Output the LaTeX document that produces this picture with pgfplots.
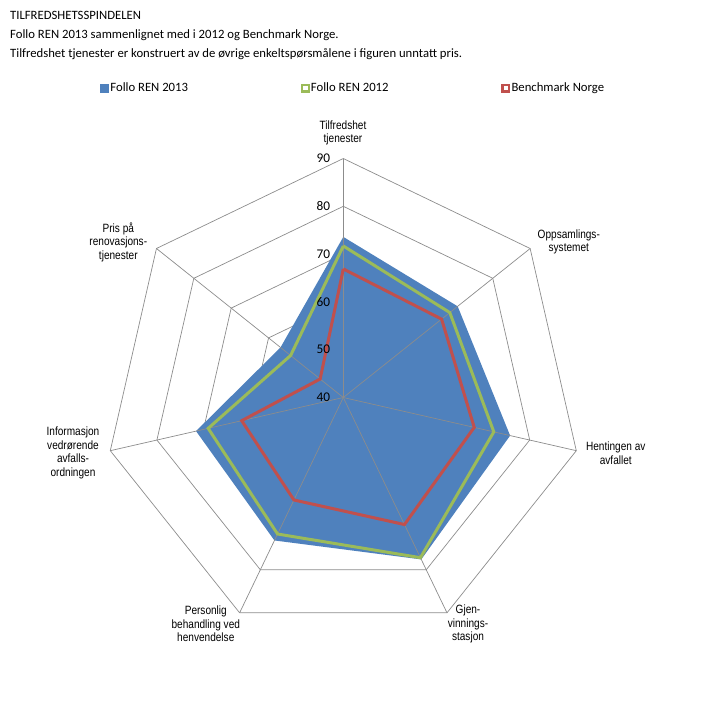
\documentclass[border=0pt]{standalone}
\usepackage{fontspec}
\setmainfont{Carlito}
\newfontfamily\narrowfont[FakeStretch=0.84]{Liberation Sans}
\usepackage{pgfplots}
\usepackage{pgfplotstable}
\pgfplotsset{compat=1.18}
\definecolor{c13}{HTML}{4F81BD}
\definecolor{c12}{HTML}{9BBB59}
\definecolor{cbm}{HTML}{C0504D}
\definecolor{gridc}{HTML}{8C8C8C}

% ang = direction of the spoke (degrees clockwise from top)
% a = Follo REN 2013, b = Follo REN 2012, c = Benchmark Norge
\pgfplotstableread{
ang a b c
0 73.6 71.7 66.9
51.4286 70.6 68.5 66.3
102.8571 75.8 72.3 68.1
154.2857 77.6 77.2 69.5
205.7143 73.2 71.7 63.8
257.1429 71.6 69.0 61.8
308.5714 56.8 54.1 46.2
360 73.6 71.7 66.9
}\radar

\begin{document}
\begin{tikzpicture}
\path[use as bounding box] (0,0) rectangle (709pt,-713pt);
\begin{axis}[
  at={(343.3pt,-397.5pt)}, anchor=center,
  x=4.78pt, y=4.78pt,
  xmin=-50, xmax=50, ymin=-50, ymax=50,
  hide axis, clip=false,
  legend columns=3,
  legend style={at={(axis cs:-50.9,64.75)}, anchor=west, draw=none, fill=none,
    inner sep=0pt, font=\fontsize{12.7}{14}\selectfont,
    nodes={inner xsep=1.2pt, inner ysep=1pt}},
  /tikz/every odd column/.append style={column sep=0pt},
  /tikz/every even column/.append style={column sep=111.5pt},
]
% rings (behind the fill)
\pgfplotsinvokeforeach{10,20,30,40,50}{
  \draw[gridc, line width=0.7pt] (axis cs:0,#1)
    -- (axis cs:{#1*sin(51.4286)},{#1*cos(51.4286)})
    -- (axis cs:{#1*sin(102.8571)},{#1*cos(102.8571)})
    -- (axis cs:{#1*sin(154.2857)},{#1*cos(154.2857)})
    -- (axis cs:{#1*sin(205.7143)},{#1*cos(205.7143)})
    -- (axis cs:{#1*sin(257.1429)},{#1*cos(257.1429)})
    -- (axis cs:{#1*sin(308.5714)},{#1*cos(308.5714)}) -- cycle;
}
\addplot[fill=c13, draw=none, area legend,
  legend image code/.code={\fill[c13] (0pt,-4.5pt) rectangle (9pt,4.5pt);}]
  table[x expr={(\thisrow{a}-40)*sin(\thisrow{ang})}, y expr={(\thisrow{a}-40)*cos(\thisrow{ang})}] {\radar};
\addlegendentry{Follo REN 2013}
% spokes (over the fill)
\pgfplotsinvokeforeach{51.4286,102.8571,154.2857,205.7143,257.1429,308.5714}{
  \draw[gridc, line width=0.7pt] (axis cs:0,0) -- (axis cs:{50*sin(#1)},{50*cos(#1)});
}
\draw[gridc, line width=1.1pt] (axis cs:0,0) -- (axis cs:0,50);
\addplot[c12, line width=3pt, line join=miter, mark=none,
  legend image code/.code={\draw[c12, line width=2.2pt, fill=white] (1.1pt,-3.4pt) rectangle (7.9pt,3.4pt);}]
  table[x expr={(\thisrow{b}-40)*sin(\thisrow{ang})}, y expr={(\thisrow{b}-40)*cos(\thisrow{ang})}] {\radar};
\addlegendentry{Follo REN 2012}
\addplot[cbm, line width=3pt, line join=miter, mark=none,
  legend image code/.code={\draw[cbm, line width=2.2pt, fill=white] (1.1pt,-3.4pt) rectangle (7.9pt,3.4pt);}]
  table[x expr={(\thisrow{c}-40)*sin(\thisrow{ang})}, y expr={(\thisrow{c}-40)*cos(\thisrow{ang})}] {\radar};
\addlegendentry{Benchmark Norge}
% value labels
\pgfplotsinvokeforeach{0,10,20,30,40,50}{
  \node[anchor=east, inner sep=0pt, font=\fontsize{13.3}{15}\selectfont] at (axis cs:-2.7,#1) {\pgfmathparse{int(#1+40)}\pgfmathresult};
}
\end{axis}
% titles
\begin{scope}[every node/.style={anchor=base west, inner sep=0pt, font=\fontsize{12.7}{14}\selectfont}]
\node at (10pt,-19.5pt) {TILFREDSHETSSPINDELEN};
\node at (10pt,-38pt) {Follo REN 2013 sammenlignet med i 2012 og Benchmark Norge.};
\node at (10pt,-57pt) {Tilfredshet tjenester er konstruert av de øvrige enkeltspørsmålene i figuren unntatt pris.};
\end{scope}
% category labels
\begin{scope}[every node/.style={align=center, inner sep=0pt, font=\narrowfont\fontsize{12}{13.5}\selectfont}]
\node at (343pt,-133pt) {Tilfredshet\\tjenester};
\node at (568.8pt,-242pt) {Oppsamlings-\\systemet};
\node at (615.8pt,-453pt) {Hentingen av\\avfallet};
\node at (468pt,-624pt) {Gjen-\\vinnings-\\stasjon};
\node at (205.8pt,-624pt) {Personlig\\behandling ved\\henvendelse};
\node at (73pt,-453pt) {Informasjon\\vedrørende\\avfalls-\\ordningen};
\node at (118.3pt,-242pt) {Pris på\\renovasjons-\\tjenester};
\end{scope}
\end{tikzpicture}
\end{document}
